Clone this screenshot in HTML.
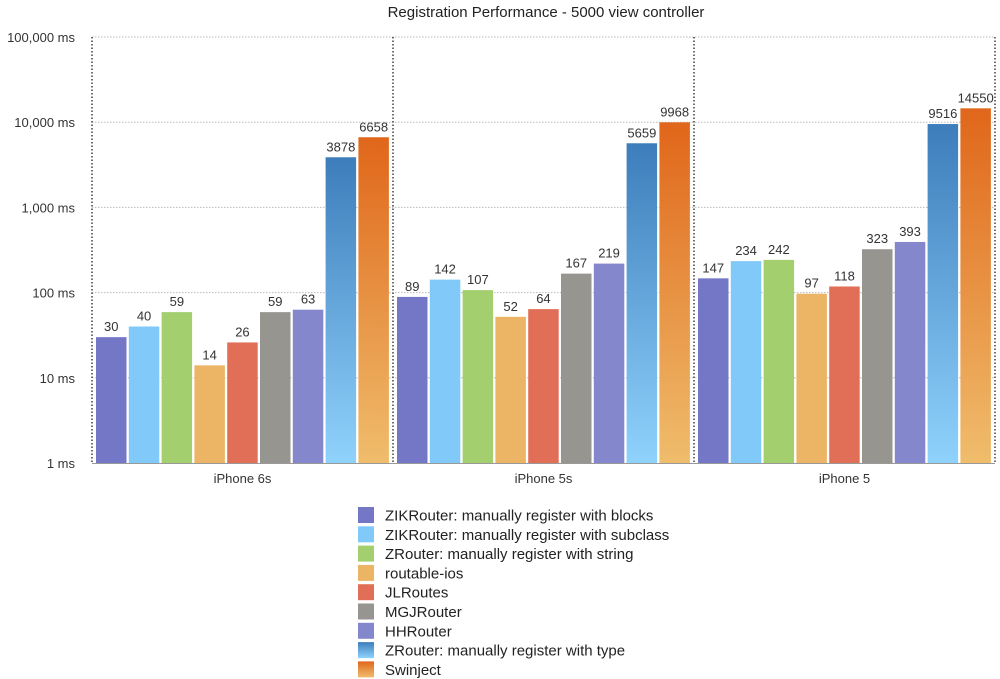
<!DOCTYPE html>
<html><head><meta charset="utf-8"><style>
body{margin:0;background:#fff;}
svg{display:block;font-family:"Liberation Sans",sans-serif;}
</style></head><body>
<svg id="chart" width="1000" height="679" viewBox="0 0 1000 679">
<defs>
<linearGradient id="gType" x1="0" y1="0" x2="0" y2="1"><stop offset="0" stop-color="#3d7dbb"/><stop offset="1" stop-color="#8fd2fc"/></linearGradient>
<linearGradient id="gSwin" x1="0" y1="0" x2="0" y2="1"><stop offset="0" stop-color="#e0661a"/><stop offset="1" stop-color="#efbd6c"/></linearGradient>
</defs>
<text x="546" y="17" text-anchor="middle" font-size="15" fill="#222">Registration Performance - 5000 view controller</text>
<g id="grid"></g><g id="bars"></g><g id="legend"></g>
</svg>
<script>
const categories = ["iPhone 6s","iPhone 5s","iPhone 5"];
const seriesNames = ["ZIKRouter: manually register with blocks","ZIKRouter: manually register with subclass","ZRouter: manually register with string","routable-ios","JLRoutes","MGJRouter","HHRouter","ZRouter: manually register with type","Swinject"];
const seriesColors = ["#7477c6","#80c9f9","#a3cf6e","#ecb566","#e16f58","#97958f","#8487cc","url(#gType)","url(#gSwin)"];
const values = [
 [30,40,59,14,26,59,63,3878,6658],
 [89,142,107,52,64,167,219,5659,9968],
 [147,234,242,97,118,323,393,9516,14550]
];
const tickValues = [1,10,100,1000,10000,100000];
const tickLabels = ["1 ms","10 ms","100 ms","1,000 ms","10,000 ms","100,000 ms"];
const NS="http://www.w3.org/2000/svg";
const plotL=92, plotR=995, plotT=37, plotB=463;
const yScale=v=>plotB-(Math.log10(v)/5)*(plotB-plotT);
const groupW=(plotR-plotL)/categories.length;
function mk(tag,attrs,parent){const e=document.createElementNS(NS,tag);for(const k in attrs)e.setAttribute(k,attrs[k]);parent.appendChild(e);return e;}
const grid=document.getElementById('grid'), bars=document.getElementById('bars'), legend=document.getElementById('legend');
tickValues.forEach((t,i)=>{
  const y=yScale(t);
  if(i>0){const l=mk('line',{x1:plotL,x2:plotR,y1:y,y2:y,stroke:'#bbb','stroke-width':1,'stroke-dasharray':'1.5,1.5'},grid);
  
  }
  const tx=mk('text',{x:75,y:y+5,'text-anchor':'end','font-size':13,fill:'#333'},grid);tx.textContent=tickLabels[i];
  
  
});
const ax=mk('line',{x1:plotL,x2:plotR,y1:plotB+0.5,y2:plotB+0.5,stroke:'#999','stroke-width':1},grid);


for(let g=0;g<=categories.length;g++){
  const x=plotL+g*groupW;
  const l=mk('line',{x1:x,x2:x,y1:plotT,y2:plotB,stroke:'#222','stroke-width':1.3,'stroke-dasharray':'1.5,2'},grid);
  
  
}
const step=32.8, bw=30.5;
categories.forEach((c,g)=>{
  const gx=plotL+g*groupW;
  values[g].forEach((v,s)=>{
    const x=gx+4+s*step, y=yScale(v);
    const r=mk('rect',{x:x,y:y,width:bw,height:plotB-y,fill:seriesColors[s]},bars);
    
    
    const t=mk('text',{x:x+bw/2,y:y-6,'text-anchor':'middle','font-size':13,fill:'#333'},bars);t.textContent=v;
    
    
  });
  const ct=mk('text',{x:gx+groupW/2,y:483,'text-anchor':'middle','font-size':13,fill:'#333'},bars);ct.textContent=c;
  
  
});
seriesNames.forEach((n,i)=>{
  const y=507+i*19.3;
  const sw=mk('rect',{x:358,y:y,width:16,height:16,fill:seriesColors[i]},legend);
  
  
  const t=mk('text',{x:385,y:y+13.5,'font-size':15,fill:'#222'},legend);t.textContent=n;
  
  
});
</script>
</body></html>
